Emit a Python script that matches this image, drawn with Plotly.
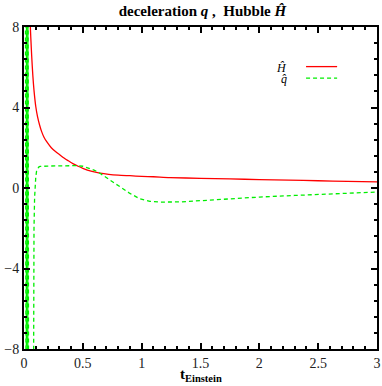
import plotly.graph_objects as go

# Hubble H-hat (red solid)
t_H = [0.045, 0.054, 0.06, 0.065, 0.075, 0.085, 0.10, 0.115, 0.133, 0.15, 0.17, 0.193, 0.232,
       0.27, 0.306, 0.34, 0.374, 0.419, 0.46, 0.5, 0.57, 0.646, 0.72, 0.8, 0.9, 1.0, 1.1, 1.24,
       1.5, 1.75, 2.0, 2.25, 2.5, 2.75, 3.0]
H = [10.0, 8.0, 7.2, 6.6, 5.6, 4.85, 4.05, 3.55, 3.12, 2.8, 2.52, 2.3, 2.0,
     1.8, 1.64, 1.49, 1.36, 1.2, 1.08, 0.98, 0.84, 0.74, 0.68, 0.64, 0.61, 0.58, 0.56, 0.52,
     0.48, 0.45, 0.42, 0.39, 0.36, 0.33, 0.3]

# deceleration q-hat (green dashed)
t_q = [0.010, 0.013, 0.016, 0.019, 0.022, 0.025, 0.028, 0.031, 0.034, 0.037, 0.040,
       0.076, 0.080, 0.085, 0.090, 0.095, 0.100, 0.107, 0.115, 0.125, 0.136, 0.16,
       0.2, 0.3, 0.4, 0.45, 0.5, 0.56, 0.6, 0.646, 0.7, 0.75, 0.816, 0.9, 0.986,
       1.07, 1.16, 1.24, 1.33, 1.5, 1.7, 2.0, 2.3, 2.6, 3.0]
q = [20, -20, 20, -20, 20, -20, 20, -20, 20, -3, -20,
     -20, -5, -2, -0.5, 0.2, 0.55, 0.85, 0.98, 1.04, 1.07, 1.08,
     1.09, 1.1, 1.11, 1.11, 1.08, 0.98, 0.88, 0.73, 0.52, 0.3, 0.05, -0.27, -0.54,
     -0.66, -0.70, -0.71, -0.69, -0.63, -0.55, -0.45, -0.37, -0.29, -0.2]

x_ticks = [0, 0.5, 1, 1.5, 2, 2.5, 3]
x_labels = ["0", "0.5", "1", "1.5", "2", "2.5", "3"]
y_ticks = [-8, -4, 0, 4, 8]
y_labels = ["\u22128", "\u22124", "0", "4", "8"]

FONT = "Liberation Serif"

fig = go.Figure()
fig.add_trace(go.Scatter(x=t_H, y=H, mode="lines", name="H",
                         line=dict(color="#ff0000", width=1.3, shape="spline", smoothing=0.8),
                         showlegend=False))
fig.add_trace(go.Scatter(x=t_q, y=q, mode="lines", name="q",
                         line=dict(color="#00ee00", width=1.3, dash="4px,3px"),
                         showlegend=False))

axis_common = dict(showline=True, linecolor="black", linewidth=2, mirror="ticks",
                   ticks="inside", ticklen=6, tickwidth=1.5, tickcolor="black",
                   showgrid=False, zeroline=False, automargin=False,
                   tickfont=dict(family=FONT, size=14, color="#222"))

fig.update_xaxes(range=[0, 3], tickvals=x_ticks, ticktext=x_labels,
                 minor=dict(ticks="inside", ticklen=3, tickwidth=1.5, tickcolor="black", dtick=0.1, tick0=0),
                 **axis_common)
fig.update_yaxes(range=[-8, 8], tickvals=y_ticks, ticktext=y_labels,
                 minor=dict(ticks="inside", ticklen=3, tickwidth=1.5, tickcolor="black", dtick=0.8, tick0=0),
                 **axis_common)

# x-axis title
fig.add_annotation(xref="paper", yref="paper", x=0.5, y=-0.08, yanchor="middle",
                   text="<b>t<sub>Einstein</sub></b>", showarrow=False,
                   font=dict(family=FONT, size=15, color="black"))

# legend (text to the left of line samples)
fig.add_annotation(xref="paper", yref="paper", x=0.75, y=0.874, text="<i>Ĥ</i>", showarrow=False,
                   xanchor="right", yanchor="middle", font=dict(family=FONT, size=12, color="black"))
fig.add_annotation(xref="paper", yref="paper", x=0.75, y=0.838, text="<i>q̂</i>", showarrow=False,
                   xanchor="right", yanchor="middle", font=dict(family=FONT, size=12, color="black"))
fig.add_shape(type="line", xref="paper", yref="paper", x0=0.799, x1=0.887, y0=0.877, y1=0.877,
              line=dict(color="#ff0000", width=1.3))
fig.add_shape(type="line", xref="paper", yref="paper", x0=0.799, x1=0.887, y0=0.841, y1=0.841,
              line=dict(color="#00ee00", width=1.3, dash="4px,3px"))

fig.update_layout(
    width=382, height=386,
    margin=dict(l=24, r=5, t=27, b=37, autoexpand=False),
    paper_bgcolor="white", plot_bgcolor="white",
    title=dict(text="<b>deceleration <i>q</i> ,  Hubble <i>Ĥ</i></b>", x=0.53, xanchor="center",
               y=0.972, yanchor="middle", font=dict(family=FONT, size=15, color="black")),
)

fig.write_html("out.html", config={"displayModeBar": False},
               post_script="document.body.style.margin='0';document.body.style.overflow='hidden';")
